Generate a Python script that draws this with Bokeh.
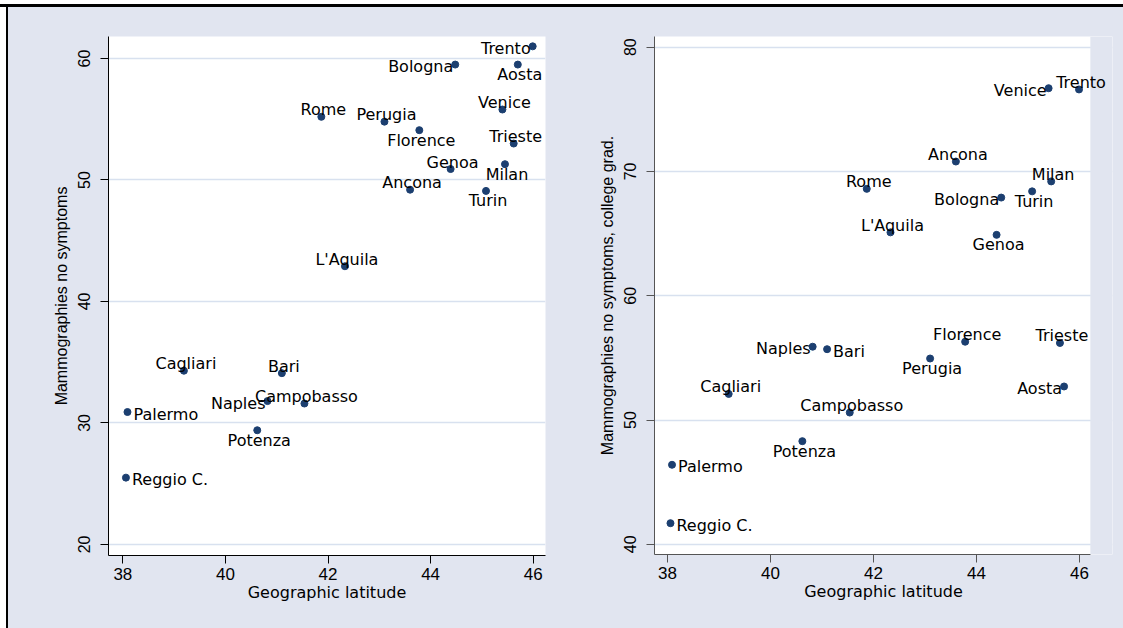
from bokeh.plotting import figure
from bokeh.layouts import row, column
from bokeh.models import ColumnDataSource, Spacer, LabelSet, BoxAnnotation
from bokeh.core.properties import value, field
from bokeh.embed import file_html
from bokeh.resources import INLINE

# ---- data ----
cities = ["Trento", "Bologna", "Aosta", "Venice", "Rome", "Perugia", "Florence",
          "Trieste", "Milan", "Genoa", "Ancona", "Turin", "L'Aquila", "Cagliari",
          "Bari", "Naples", "Campobasso", "Palermo", "Potenza", "Reggio C."]
latitude = [45.99, 44.48, 45.70, 45.40, 41.87, 43.10, 43.78,
            45.62, 45.45, 44.39, 43.60, 45.08, 42.33, 39.19,
            41.10, 40.82, 41.54, 38.09, 40.62, 38.06]
mammo_no_symptoms = [61.0, 59.5, 59.5, 55.8, 55.2, 54.8, 54.1,
                     53.0, 51.3, 50.9, 49.2, 49.1, 42.9, 34.3,
                     34.1, 31.8, 31.6, 30.9, 29.4, 25.5]
mammo_college = [76.6, 67.9, 52.7, 76.7, 68.6, 54.95, 56.3,
                 56.2, 69.2, 64.9, 70.8, 68.4, 65.1, 52.1,
                 55.7, 55.9, 50.6, 46.4, 48.3, 41.7]
lat_ticks = [38, 40, 42, 44, 46]
left_ticks = [20, 30, 40, 50, 60]
right_ticks = [40, 50, 60, 70, 80]
x_title = "Geographic latitude"
left_title = "Mammographies no symptoms"
right_title = "Mammographies no symptoms, college grad."

# label clock positions (styling)
pos_left = [9, 9, 6, 12, 12, 12, 6, 12, 6, 12, 12, 6, 12, 12, 12, 9, 12, 3, 6, 3]
pos_right = [12, 9, 9, 9, 12, 6, 12, 12, 12, 6, 12, 6, 12, 12, 3, 9, 12, 3, 6, 3]

BG = "#E1E5F0"
GRID = "#D8E1EF"
MARK = "#1C3F70"
FONT = "Liberation Sans"
LFONT = "DejaVu Sans"
# (align, x offset px, y offset px, positive = up)
OFFS = {12: ("center", 2, 7), 6: ("center", 2, -10), 9: ("right", -2, -2), 3: ("left", 6, -2)}


def panel(yvals, positions, xr, yr, yticks, ytitle, fw, fh, mbl, mbr, mbt, mbb,
          axis_color, x_end=None):
    p = figure(frame_width=fw, frame_height=fh, x_range=xr, y_range=yr,
               output_backend="svg", toolbar_location=None,
               min_border_left=mbl, min_border_right=mbr,
               min_border_top=mbt, min_border_bottom=mbb)
    p.background_fill_color = "white"
    p.border_fill_color = BG
    p.outline_line_color = None
    p.xgrid.visible = False
    p.ygrid.grid_line_color = GRID
    p.ygrid.grid_line_width = 1.5
    p.xaxis.ticker = lat_ticks
    p.yaxis.ticker = yticks
    for ax in (p.xaxis[0], p.yaxis[0]):
        ax.axis_line_color = axis_color
        ax.major_tick_line_color = axis_color
        ax.major_tick_in = 0
        ax.major_tick_out = 8
        ax.minor_tick_line_color = None
        ax.major_label_text_font = FONT
        ax.major_label_text_font_size = "16px"
        ax.major_label_text_color = "black"
        ax.axis_label_text_font = FONT
        ax.axis_label_text_font_size = "16px"
        ax.axis_label_text_font_style = "normal"
        ax.axis_label_text_color = "black"
    p.xaxis.axis_label = x_title
    p.xaxis.axis_label_text_font = LFONT
    p.xaxis.major_label_text_font_size = "17px"
    p.xaxis.major_label_standoff = 4
    p.xaxis.axis_label_standoff = 0
    p.yaxis.axis_label = ytitle
    p.yaxis.major_label_orientation = "vertical"
    p.yaxis.major_label_standoff = 10
    p.yaxis.axis_label_standoff = 6

    if x_end is not None:
        # plot region ends at x_end; the rest of the frame is page background
        p.xaxis.bounds = (xr[0], x_end)
        p.add_layout(BoxAnnotation(left=x_end, right=xr[1], fill_color=BG, fill_alpha=1.0,
                                   line_color=None))

    src = ColumnDataSource(dict(
        x=latitude, y=yvals, name=cities,
        align=[OFFS[k][0] for k in positions],
        xo=[OFFS[k][1] for k in positions],
        yo=[OFFS[k][2] for k in positions],
    ))
    p.scatter("x", "y", source=src, size=7, color=MARK, line_color=MARK)
    labels = LabelSet(x="x", y="y", text="name", source=src,
                      text_align=field("align"), x_offset=field("xo"), y_offset=field("yo"),
                      text_baseline="middle", text_font=value(LFONT),
                      text_font_size="16px", text_color="black")
    p.add_layout(labels)
    return p


left = panel(mammo_no_symptoms, pos_left, (37.72, 46.24), (19.09, 61.81), left_ticks,
             left_title, 437, 519, 100, 50, 29, 73, "black")
right = panel(mammo_college, pos_right, (37.75, 46.64), (39.18, 80.86), right_ticks,
              right_title, 458, 518, 57, 13, 29, 74, "#555555", x_end=46.21)

top_white = Spacer(width=1123, height=4, styles={"background-color": "white"})
top_border = Spacer(width=1123, height=3, styles={"background-color": "black"})
left_white = Spacer(width=6, height=621, styles={"background-color": "white"})
left_border = Spacer(width=2, height=621, styles={"background-color": "black"})
body = row(left_white, left_border, left, right, styles={"background-color": BG})
layout = column(top_white, top_border, body)

open("out.html", "w").write(file_html(layout, INLINE))
